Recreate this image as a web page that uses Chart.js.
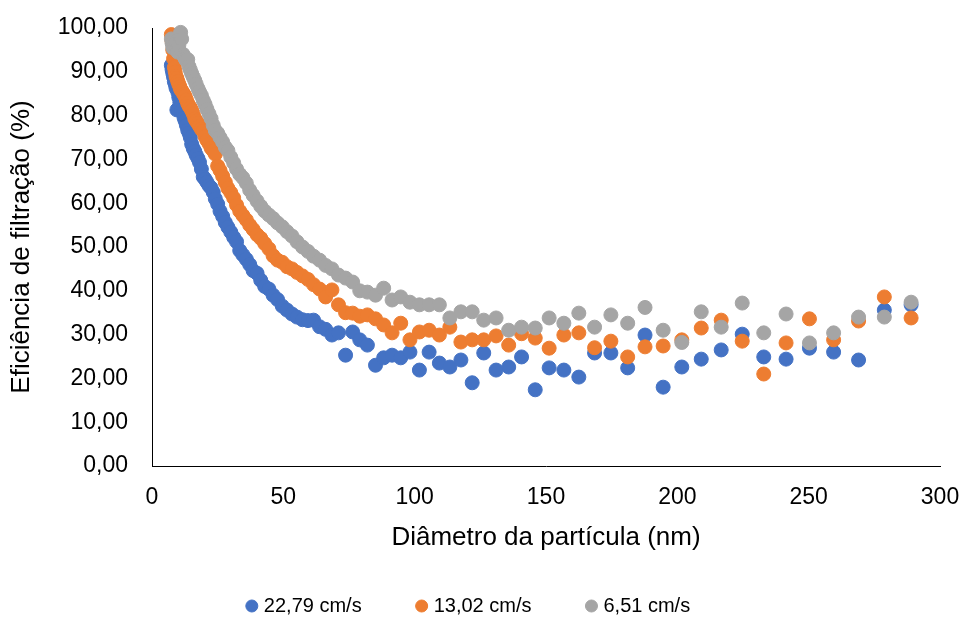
<!DOCTYPE html>
<html>
<head>
<meta charset="utf-8">
<script src="https://cdn.jsdelivr.net/npm/chart.js@4.4.1/dist/chart.umd.min.js"></script>
<style>
  html, body { margin: 0; padding: 0; background: #fff; }
</style>
</head>
<body>
<canvas id="chart" width="970" height="621"></canvas>
<script>
// particle diameter bins (nm)
const diameters = [
  7.37, 7.64, 7.91, 8.2, 8.51, 8.82, 9.14, 9.47, 9.82, 10.2,
  10.6, 10.9, 11.3, 11.8, 12.2, 12.6, 13.1, 13.6, 14.1, 14.6, 15.1,
  15.7, 16.3, 16.8, 17.5, 18.1, 18.8, 19.5, 20.2, 20.9, 21.7,
  22.5, 23.3, 24.1, 25, 25.9, 26.9, 27.9, 28.9, 30, 31.1,
  32.2, 33.4, 34.6, 35.9, 37.2, 38.5, 40, 41.4, 42.9, 44.5,
  46.1, 47.8, 49.6, 51.4, 53.3, 55.2, 57.3, 59.4, 61.5, 63.8,
  66.1, 68.5, 71, 73.7, 76.4, 79.1, 82, 85.1, 88.2, 91.4,
  94.7, 98.2, 101.8, 105.5, 109.4, 113.4, 117.6, 121.9, 126.3, 131,
  135.8, 140.7, 145.9, 151.2, 156.8, 162.5, 168.5, 174.7, 181.1, 187.7,
  194.6, 201.7, 209.1, 216.7, 224.7, 232.9, 241.4, 250.3, 259.5, 269,
  278.8, 289
];

// filtration efficiency (%) per face velocity
const eff2279 = [
  91.5, 90.5, 89.7, 88.8, 87.8, 87.2, 86.3, 81.3, 85.4, 84.2,
  83, 82, 81.2, 80.6, 79.5, 78.8, 77.8, 76.7, 76, 75, 73.5,
  72.5, 71.8, 71, 70.2, 69.3, 67.8, 66, 65.5, 64.8, 64,
  63.5, 62.5, 61, 59.8, 58.2, 57, 55.6, 54.5, 53.4, 52.2,
  51.2, 49.2, 48.2, 47.2, 46, 44.6, 44, 42.4, 41, 40.4,
  39, 38, 36.5, 35.6, 34.7, 34, 33.4, 33.2, 33.3, 31.8,
  31.2, 29.9, 30.4, 25.3, 30.6, 28.8, 27.6, 23, 24.7, 25.3,
  24.7, 26, 21.9, 26, 23.5, 22.6, 24.2, 19, 25.8, 21.9,
  22.6, 24.9, 17.4, 22.4, 21.9, 20.3, 25.8, 25.8, 22.4, 29.9,
  18, 22.6, 24.4, 26.5, 30.1, 24.9, 24.4, 26.9, 26, 24.2,
  35.6, 36.8
];
const eff1302 = [
  98.5, 97, 95, 93, 91, 90, 89, 88.5, 87.8, 87.2,
  86.6, 86, 85.7, 85.2, 84.8, 84.4, 83.6, 82.8, 82.2, 81.8, 81.2,
  80.4, 79.3, 78.8, 78.2, 77.6, 76.9, 76.5, 75.2, 74.4, 73.6,
  72.6, 72, 71.2, 68.5, 67.5, 66.2, 64.8, 63.4, 62.4, 61.2,
  59.6, 58.2, 57.2, 56.2, 55, 54, 52.8, 52, 50.8, 49.6,
  48, 47, 46.5, 45.5, 45, 44.2, 43.4, 42.6, 41.4, 40.4,
  38.6, 40.2, 36.8, 35, 34.9, 34.2, 34.5, 33.6, 32.2, 30.4,
  32.6, 28.8, 30.6, 31, 29.9, 31.7, 28.3, 28.8, 28.8, 29.7,
  27.6, 30.2, 29.2, 26.9, 29.9, 30.4, 27, 28.5, 24.9, 27.2,
  27.4, 28.8, 31.5, 33.3, 28.5, 21, 28.1, 33.6, 28.8, 33.1,
  38.6, 33.8
];
const eff651 = [
  97.5, 96.5, 95.5, 97, 96, 95.5, 96.8, 95, 94.5, 96,
  98, 99, 97.5, 94, 93.5, 93, 92.6, 92.8, 91.2, 90.4, 89.6,
  88.8, 88, 87.2, 86.2, 85.4, 84.6, 83.5, 82.6, 81.5, 80.4,
  79.3, 77.8, 76.6, 76, 75, 74, 72.8, 72, 70.5, 69.2,
  67.8, 66.6, 65.8, 64.6, 63, 61.8, 60.5, 59.3, 58.2, 57.3,
  56.5, 55.5, 54.6, 53.5, 52.5, 51.2, 50, 49, 47.9, 47,
  45.8, 45, 43.6, 42.9, 42, 40, 39.7, 39, 40.6, 37.9,
  38.6, 37.4, 36.8, 36.8, 36.8, 33.8, 35.2, 35.2, 33.3, 33.8,
  31, 31.7, 31.5, 33.8, 32.6, 34.9, 31.7, 34.5, 32.6, 36.2,
  31, 28.2, 35.2, 31.7, 37.2, 30.4, 34.7, 28.1, 30.4, 34,
  34, 37.4
];

const seriesNames = ['22,79 cm/s', '13,02 cm/s', '6,51 cm/s'];
const seriesColors = ['#4472C4', '#ED7D31', '#A5A5A5'];
const yTickLabels = ['0,00', '10,00', '20,00', '30,00', '40,00', '50,00',
                     '60,00', '70,00', '80,00', '90,00', '100,00'];

Chart.defaults.font.family = "'Liberation Sans', Arial, sans-serif";
Chart.defaults.color = '#000';

function toPoints(values) {
  return diameters.map((d, i) => ({ x: d, y: values[i] }));
}

const allSeries = [eff2279, eff1302, eff651];
const datasets = allSeries.map((vals, i) => ({
  label: seriesNames[i],
  data: toPoints(vals),
  backgroundColor: seriesColors[i],
  borderColor: seriesColors[i],
  pointRadius: 7,
  pointBorderWidth: 1,
  pointHoverRadius: 7,
  order: 3 - i,   // last series painted on top, like the original
  clip: false
}));

new Chart(document.getElementById('chart'), {
  type: 'scatter',
  data: { datasets: datasets },
  options: {
    responsive: false,
    animation: false,
    devicePixelRatio: 1,
    layout: { padding: { top: 28, right: 30, bottom: -5, left: 0 } },
    plugins: {
      tooltip: { enabled: false },
      legend: {
        position: 'bottom',
        labels: {
          usePointStyle: true,
          pointStyle: 'circle',
          boxWidth: 4,
          boxHeight: 8.5,
          padding: 58,
          color: '#000',
          font: { size: 20 },
          sort: (a, b) => a.datasetIndex - b.datasetIndex
        }
      }
    },
    scales: {
      x: {
        type: 'linear',
        min: 0,
        max: 300,
        ticks: { stepSize: 50, padding: 18, font: { size: 23 }, color: '#000' },
        grid: { display: false, drawTicks: false },
        border: { display: true, color: '#000', width: 1 },
        title: {
          display: true,
          text: 'Diâmetro da partícula (nm)',
          color: '#000',
          font: { size: 26 },
          padding: { top: 0, bottom: -15 }
        },
        afterFit: (scale) => {
          scale.height = 72;
          scale.paddingLeft = 0;
          scale.paddingRight = 0;
        }
      },
      y: {
        min: 0,
        max: 100,
        ticks: {
          stepSize: 10,
          padding: 24,
          font: { size: 23 },
          color: '#000',
          callback: (value, index) => yTickLabels[index]
        },
        grid: { display: false, drawTicks: false },
        border: { display: true, color: '#000', width: 1 },
        title: {
          display: true,
          text: 'Eficiência de filtração (%)',
          color: '#000',
          font: { size: 26 },
          padding: { top: 6, bottom: 0 }
        },
        afterFit: (scale) => {
          scale.width = 152;
          scale.paddingTop = 0;
          scale.paddingBottom = 0;
        }
      }
    }
  }
});
</script>
</body>
</html>
